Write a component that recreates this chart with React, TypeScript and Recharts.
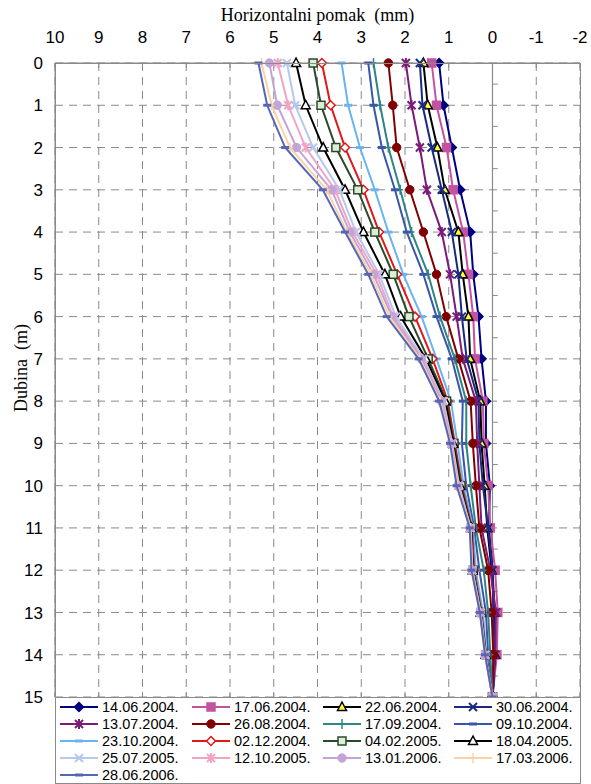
import React from 'react';
import {
  ScatterChart,
  Scatter,
  XAxis,
  YAxis,
  CartesianGrid,
  ReferenceLine,
} from 'recharts';

// depth of each reading (m)
const depths = [0, 1, 2, 3, 4, 5, 6, 7, 8, 9, 10, 11, 12, 13, 14, 15];

const xTicks = [10, 9, 8, 7, 6, 5, 4, 3, 2, 1, 0, -1, -2];
const yTicks = [0, 1, 2, 3, 4, 5, 6, 7, 8, 9, 10, 11, 12, 13, 14, 15];

// horizontal displacement (mm) per measurement date
const d140604 = [1.22, 1.12, 0.93, 0.74, 0.51, 0.44, 0.32, 0.25, 0.15, 0.15, 0.06, 0.08, 0.0, -0.05, -0.08, 0];
const d170604 = [1.39, 1.28, 1.05, 0.9, 0.67, 0.55, 0.44, 0.4, 0.22, 0.2, 0.1, 0.05, -0.06, -0.12, -0.1, 0];
const d220604 = [1.58, 1.48, 1.26, 1.09, 0.78, 0.68, 0.55, 0.51, 0.28, 0.25, 0.18, 0.12, 0.02, -0.05, -0.06, 0];
const d300604 = [1.66, 1.6, 1.39, 1.16, 0.93, 0.78, 0.7, 0.59, 0.32, 0.3, 0.22, 0.1, 0.0, -0.02, -0.05, 0];
const d130704 = [1.98, 1.85, 1.66, 1.5, 1.16, 0.97, 0.82, 0.68, 0.38, 0.35, 0.3, 0.25, 0.05, -0.08, -0.06, 0];
const d260804 = [2.38, 2.28, 2.19, 1.89, 1.58, 1.28, 1.06, 0.78, 0.5, 0.45, 0.38, 0.3, 0.1, 0.02, -0.02, 0];
const d170904 = [2.72, 2.57, 2.38, 2.11, 1.85, 1.47, 1.2, 0.86, 0.6, 0.6, 0.5, 0.38, 0.2, 0.1, 0.05, 0];
const d091004 = [2.84, 2.72, 2.53, 2.23, 1.96, 1.58, 1.28, 0.93, 0.68, 0.7, 0.6, 0.42, 0.3, 0.15, 0.1, 0];
const d231004 = [3.45, 3.3, 3.03, 2.69, 2.38, 2.04, 1.62, 1.28, 0.95, 0.8, 0.66, 0.45, 0.38, 0.22, 0.14, 0];
const d021204 = [3.9, 3.7, 3.37, 2.95, 2.59, 2.18, 1.77, 1.37, 1.02, 0.86, 0.7, 0.47, 0.42, 0.25, 0.15, 0];
const d040205 = [4.1, 3.92, 3.58, 3.08, 2.69, 2.27, 1.91, 1.47, 1.05, 0.88, 0.72, 0.48, 0.44, 0.26, 0.15, 0];
const d180405 = [4.49, 4.27, 3.87, 3.37, 2.95, 2.46, 2.1, 1.52, 1.08, 0.9, 0.74, 0.49, 0.45, 0.27, 0.16, 0];
const d250705 = [4.7, 4.51, 4.1, 3.5, 3.12, 2.59, 2.21, 1.57, 1.12, 0.92, 0.76, 0.5, 0.46, 0.27, 0.16, 0];
const d121005 = [4.91, 4.67, 4.27, 3.6, 3.2, 2.65, 2.27, 1.6, 1.15, 0.93, 0.78, 0.5, 0.46, 0.28, 0.17, 0];
const d130106 = [5.1, 4.92, 4.48, 3.68, 3.26, 2.72, 2.3, 1.63, 1.17, 0.95, 0.79, 0.51, 0.47, 0.28, 0.17, 0];
const d170306 = [5.28, 5.05, 4.63, 3.79, 3.33, 2.78, 2.36, 1.66, 1.2, 0.96, 0.8, 0.51, 0.47, 0.29, 0.17, 0];
const d280606 = [5.35, 5.15, 4.74, 3.88, 3.37, 2.84, 2.42, 1.69, 1.22, 0.97, 0.82, 0.52, 0.48, 0.29, 0.17, 0];

type MarkerKind = 'diamond' | 'square' | 'triangle' | 'x' | 'star' | 'circle' | 'plus' | 'dash';

interface SeriesDef {
  name: string;
  values: number[];
  color: string;
  marker: MarkerKind;
  fill: string;
}

const SERIES: SeriesDef[] = [
  { name: '14.06.2004.', values: d140604, color: '#000080', marker: 'diamond', fill: '#000080' },
  { name: '17.06.2004.', values: d170604, color: '#c4539f', marker: 'square', fill: '#c4539f' },
  { name: '22.06.2004.', values: d220604, color: '#000000', marker: 'triangle', fill: '#ffff33' },
  { name: '30.06.2004.', values: d300604, color: '#1a2a80', marker: 'x', fill: 'none' },
  { name: '13.07.2004.', values: d130704, color: '#7a1a7a', marker: 'star', fill: 'none' },
  { name: '26.08.2004.', values: d260804, color: '#800000', marker: 'circle', fill: '#800000' },
  { name: '17.09.2004.', values: d170904, color: '#2f8585', marker: 'plus', fill: 'none' },
  { name: '09.10.2004.', values: d091004, color: '#3a56a8', marker: 'dash', fill: 'none' },
  { name: '23.10.2004.', values: d231004, color: '#6ab4f2', marker: 'dash', fill: 'none' },
  { name: '02.12.2004.', values: d021204, color: '#e01818', marker: 'diamond', fill: '#ffffff' },
  { name: '04.02.2005.', values: d040205, color: '#2a4a2a', marker: 'square', fill: '#dcefd4' },
  { name: '18.04.2005.', values: d180405, color: '#000000', marker: 'triangle', fill: '#ffffff' },
  { name: '25.07.2005.', values: d250705, color: '#b4c8f0', marker: 'x', fill: 'none' },
  { name: '12.10.2005.', values: d121005, color: '#f2a4c6', marker: 'star', fill: 'none' },
  { name: '13.01.2006.', values: d130106, color: '#c4a4d8', marker: 'circle', fill: '#c4a4d8' },
  { name: '17.03.2006.', values: d170306, color: '#fad2a4', marker: 'plus', fill: 'none' },
  { name: '28.06.2006.', values: d280606, color: '#5566b8', marker: 'dash', fill: 'none' },
];

const drawMarker = (kind: MarkerKind, cx: number, cy: number, color: string, fill: string) => {
  const s = 4.5;
  switch (kind) {
    case 'diamond':
      return <path d={`M${cx},${cy - s} L${cx + s},${cy} L${cx},${cy + s} L${cx - s},${cy} Z`} fill={fill} stroke={color} strokeWidth={1.5} />;
    case 'square':
      return <rect x={cx - 4} y={cy - 4} width={8} height={8} fill={fill} stroke={color} strokeWidth={1.5} />;
    case 'triangle':
      return <path d={`M${cx},${cy - 5} L${cx + 4.5},${cy + 3.5} L${cx - 4.5},${cy + 3.5} Z`} fill={fill} stroke={color} strokeWidth={1.5} />;
    case 'circle':
      return <circle cx={cx} cy={cy} r={4.2} fill={fill} stroke={color} strokeWidth={1} />;
    case 'x':
      return (
        <path d={`M${cx - 4},${cy - 4} L${cx + 4},${cy + 4} M${cx - 4},${cy + 4} L${cx + 4},${cy - 4}`} stroke={color} strokeWidth={2} />
      );
    case 'star':
      return (
        <path
          d={`M${cx - 4},${cy - 4} L${cx + 4},${cy + 4} M${cx - 4},${cy + 4} L${cx + 4},${cy - 4} M${cx},${cy - 5} L${cx},${cy + 5}`}
          stroke={color}
          strokeWidth={2}
        />
      );
    case 'plus':
      return <path d={`M${cx},${cy - 5} L${cx},${cy + 5} M${cx - 3},${cy} L${cx + 3},${cy}`} stroke={color} strokeWidth={1.5} />;
    case 'dash':
    default:
      return <path d={`M${cx - 4},${cy} L${cx + 4},${cy}`} stroke={color} strokeWidth={3} />;
  }
};

const W = 591;
const H = 784;
const PLOT_LEFT = 55;
const PLOT_TOP = 63;
const PLOT_RIGHT = 580;
const PLOT_BOTTOM = 697;

const sansFont = '"Liberation Sans", Arial, sans-serif';
const serifFont = '"Liberation Serif", "Times New Roman", serif';

const halfDepths = [0.5, 1.5, 2.5, 3.5, 4.5, 5.5, 6.5, 7.5, 8.5, 9.5, 10.5, 11.5, 12.5, 13.5, 14.5];

export default function App() {
  return (
    <div style={{ position: 'absolute', left: 0, top: 0, width: W, height: H, background: '#fff' }}>
      <ScatterChart
        width={W}
        height={H}
        margin={{ top: 0, right: W - PLOT_RIGHT, bottom: H - PLOT_BOTTOM, left: 0 }}
      >
        <CartesianGrid stroke="#8a8a8a" strokeDasharray="8 6" strokeWidth={1} />
        <XAxis
          type="number"
          dataKey="x"
          orientation="top"
          reversed
          domain={[-2, 10]}
          ticks={xTicks}
          interval={0}
          height={PLOT_TOP}
          tickSize={0}
          tickMargin={20}
          axisLine={{ stroke: '#8a8a8a' }}
          tick={{ fill: '#000', fontSize: 17, fontFamily: sansFont }}
          label={{
            value: 'Horizontalni pomak\u00a0 (mm)',
            position: 'insideTop',
            offset: 8,
            fill: '#000',
            fontSize: 18,
            fontFamily: serifFont,
          }}
        />
        <YAxis
          type="number"
          dataKey="y"
          reversed
          domain={[0, 15]}
          ticks={yTicks}
          interval={0}
          width={PLOT_LEFT}
          tickSize={0}
          tickMargin={12}
          axisLine={{ stroke: '#8a8a8a' }}
          tick={{ fill: '#000', fontSize: 17, fontFamily: sansFont }}
          label={{
            value: 'Dubina\u00a0 (m)',
            angle: -90,
            position: 'insideLeft',
            offset: 21,
            dy: -12,
            fill: '#000',
            fontSize: 18,
            fontFamily: serifFont,
            style: { textAnchor: 'middle' },
          }}
        />
        <ReferenceLine x={0} stroke="#8a8a8a" strokeWidth={1.2} />
        {halfDepths.map((d) => (
          <ReferenceLine
            key={`ht-${d}`}
            segment={[{ x: 0, y: d }, { x: -0.12, y: d }]}
            stroke="#8a8a8a"
          />
        ))}
        {xTicks.map((t) => (
          <ReferenceLine
            key={`tt-${t}`}
            segment={[{ x: t, y: 0 }, { x: t, y: 0.12 }]}
            stroke="#8a8a8a"
          />
        ))}
        {xTicks.map((t) => (
          <ReferenceLine
            key={`bt-${t}`}
            segment={[{ x: t, y: 15 }, { x: t, y: 14.88 }]}
            stroke="#8a8a8a"
          />
        ))}
        {SERIES.map((s) => (
          <Scatter
            key={s.name}
            name={s.name}
            data={depths.map((d, i) => ({ x: s.values[i], y: d }))}
            line={{ stroke: s.color, strokeWidth: 2 }}
            lineType="joint"
            isAnimationActive={false}
            shape={(p: any) => drawMarker(s.marker, p.cx, p.cy, s.color, s.fill)}
          />
        ))}
      </ScatterChart>

      {/* frame round the plot and legend */}
      <div
        style={{
          position: 'absolute',
          left: PLOT_LEFT,
          top: PLOT_TOP,
          width: PLOT_RIGHT - PLOT_LEFT - 1,
          height: 782 - PLOT_TOP,
          border: '1px solid #8a8a8a',
          pointerEvents: 'none',
          boxSizing: 'content-box',
        }}
      />

      {/* legend */}
      <div
        style={{
          position: 'absolute',
          left: PLOT_LEFT + 1,
          top: PLOT_BOTTOM,
          width: PLOT_RIGHT - PLOT_LEFT - 1,
          height: 782 - PLOT_BOTTOM,
          borderTop: '1px solid #8a8a8a',
          background: '#fff',
          display: 'grid',
          gridTemplateColumns: '132px 131px 131px 131px',
          gridAutoRows: '17px',
          paddingLeft: 4,
          boxSizing: 'border-box',
          fontFamily: sansFont,
          fontSize: 14.5,
          color: '#000',
        }}
      >
        {SERIES.map((s) => (
          <div key={s.name} style={{ display: 'flex', alignItems: 'center', whiteSpace: 'nowrap' }}>
            <svg width={42} height={14} style={{ flex: 'none' }}>
              <line x1={0} y1={7} x2={38} y2={7} stroke={s.color} strokeWidth={2} />
              {drawMarker(s.marker, 19, 7, s.color, s.fill)}
            </svg>
            <span>{s.name}</span>
          </div>
        ))}
      </div>
    </div>
  );
}
